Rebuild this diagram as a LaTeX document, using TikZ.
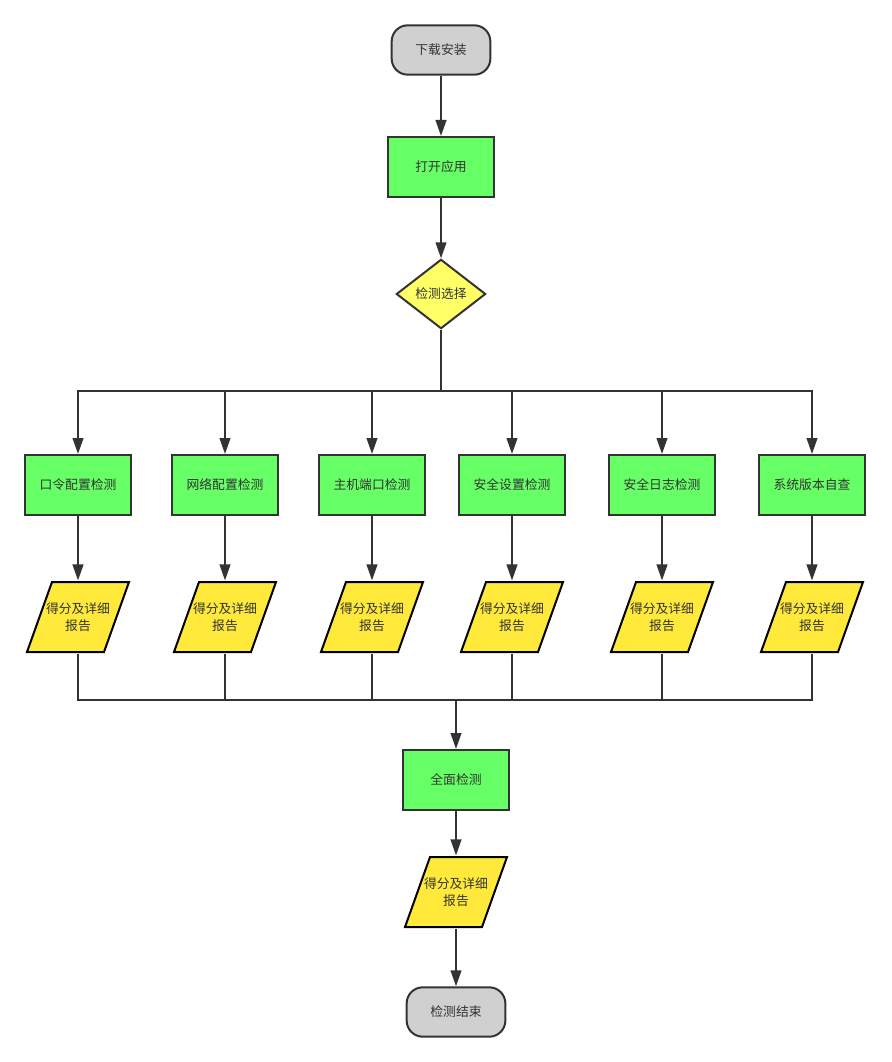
\documentclass[tikz,border=0pt]{standalone}
\usepackage{fontspec}
\setmainfont{Noto Sans CJK SC}
\usetikzlibrary{shapes.geometric,arrows.meta}
\definecolor{ink}{HTML}{333333}
\definecolor{termfill}{HTML}{D0D0D0}
\definecolor{boxfill}{HTML}{66FF66}
\definecolor{diafill}{HTML}{FFFF66}
\definecolor{parfill}{HTML}{FFE93A}
\tikzset{
  every node/.style={font=\fontsize{9.6pt}{12.8pt}\selectfont, text=ink},
  term/.style={draw=ink, fill=termfill, line width=1.5pt, rounded corners=12pt, minimum width=74pt, minimum height=37pt, inner sep=0pt},
  procbox/.style={draw=ink, fill=boxfill, line width=1.5pt, minimum width=80pt, minimum height=45pt, inner sep=0pt},
  decide/.style={draw=ink, fill=diafill, line width=1.5pt, diamond, aspect=1.28, minimum width=67pt, minimum height=52pt, inner sep=0pt},
  pgtxt/.style={align=center, minimum width=60pt, minimum height=52pt, inner sep=0pt},
  pgshape/.style={draw=black, fill=parfill, line width=1.5pt, line join=miter},
  conn/.style={draw=ink, line width=1.5pt},
  arr/.style={conn, -{Triangle[length=12pt,width=8pt]}},
}
\newcommand\parabox[3]{%
  \filldraw[pgshape] ({#2-26},{#3-35}) -- ({#2+51},{#3-35}) -- ({#2+26},{#3+35}) -- ({#2-51},{#3+35}) -- cycle;
  \node[pgtxt] (#1) at (#2,#3) {得分及详细\\报告};
}
\begin{document}
\begin{tikzpicture}[x=0.75pt,y=-0.75pt]
\useasboundingbox[fill=white] (0,0) rectangle (891,1062);
\node[term] (start) at (441,50) {下载安装};
\node[procbox] (open) at (441,167) {打开应用};
\node[decide] (sel) at (441,294) {检测选择};
\coordinate (split) at (441,391);
\node[procbox] (g1) at (78,485) {口令配置检测};
\node[procbox] (g2) at (225,485) {网络配置检测};
\node[procbox] (g3) at (372,485) {主机端口检测};
\node[procbox] (g4) at (512,485) {安全设置检测};
\node[procbox] (g5) at (662,485) {安全日志检测};
\node[procbox] (g6) at (812,485) {系统版本自查};
\parabox{p1}{78}{617}
\parabox{p2}{225}{617}
\parabox{p3}{372}{617}
\parabox{p4}{512}{617}
\parabox{p5}{662}{617}
\parabox{p6}{812}{617}
\coordinate (merge) at (456,700);
\node[procbox] (all) at (456,780) {全面检测};
\parabox{pall}{456}{892}
\node[term] (end) at (456,1012) {检测结束};

\draw[arr] (start) -- (open);
\draw[arr] (open) -- (sel);
\draw[conn] (sel.south) -- (split);
\foreach \i in {1,...,6} {
  \draw[arr] (split) -| (g\i.north);
  \draw[arr] (g\i.south) -- ([yshift=1.2pt]p\i.north);
  \draw[conn] ([yshift=-1.2pt]p\i.south) |- (merge);
}
\draw[arr] (merge) -- (all.north);
\draw[arr] (all.south) -- ([yshift=1.2pt]pall.north);
\draw[arr] ([yshift=-1.2pt]pall.south) -- (end.north);
\end{tikzpicture}
\end{document}
